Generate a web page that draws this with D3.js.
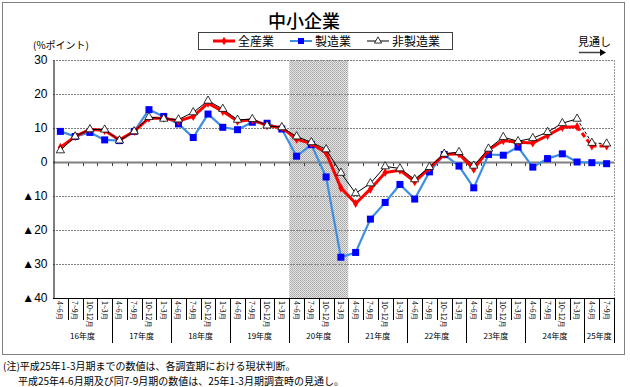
<!DOCTYPE html>
<html>
<head>
<meta charset="utf-8">
<script src="https://cdn.jsdelivr.net/npm/d3@7"></script>
<style>
body { margin: 0; background: #fff; }
svg { display: block; font-family: "Noto Sans CJK JP", sans-serif; }
</style>
</head>
<body>
<div id="chart"></div>
<script>
// 年度と四半期
var years = ["16年度","17年度","18年度","19年度","20年度","21年度","22年度","23年度","24年度","25年度"];
var yearQuarters = [4,4,4,4,4,4,4,4,4,2];
var quarters = ["4~6月","7~9月","10~12月","1~3月"];

// 系列の値（%ポイント）
var allInd = [4.3,7.5,9.6,9.3,6.5,9.0,12.9,12.9,12.1,13.4,17.3,14.9,12.0,12.4,10.7,10.1,
  6.7,5.4,2.7,-7.6,-12.2,-8.0,-3.1,-2.4,-5.8,-1.8,2.2,2.4,-2.1,3.6,6.3,5.8,5.6,7.8,10.2,10.4,4.7,4.7];
var manuf = [9.0,7.5,8.7,6.5,6.3,9.0,15.4,13.4,11.2,7.2,14.1,10.2,9.5,11.7,11.4,9.7,
  1.7,5.1,-4.4,-28.0,-26.6,-16.8,-11.9,-6.6,-10.9,-2.9,2.2,-1.2,-7.6,2.2,2.0,4.4,-1.5,1.0,2.4,0.0,-0.2,-0.5];
var nonManuf = [3.4,7.5,9.6,9.5,6.3,9.0,13.2,12.7,12.5,14.6,18.0,15.6,12.4,12.6,10.7,10.2,
  7.5,5.8,3.7,-3.2,-9.2,-6.3,-1.3,-1.9,-5.1,-1.5,2.4,2.9,-1.1,3.9,7.3,6.1,7.0,8.8,11.4,12.7,5.6,5.4];
var yTicks = [30,20,10,0,-10,-20,-30,-40];
var shadeFrom = 16, shadeTo = 19;   // 20年度
var forecastFrom = 35;              // 見通し

var W = 630, H = 387;
var x0 = 53, x1 = 614, yTop = 60, yBot = 298;

var svg = d3.select("#chart").append("svg").attr("width", W).attr("height", H);

var defs = svg.append("defs");
var pat = defs.append("pattern").attr("id", "dots")
  .attr("width", 2).attr("height", 2).attr("patternUnits", "userSpaceOnUse");
pat.append("rect").attr("width", 2).attr("height", 2).attr("fill", "#e4e4e4");
pat.append("rect").attr("width", 1).attr("height", 1).attr("fill", "#a8a8a8");
pat.append("rect").attr("x", 1).attr("y", 1).attr("width", 1).attr("height", 1).attr("fill", "#b4b4b4");

// 外枠
svg.append("rect").attr("x", 2.5).attr("y", 2.5).attr("width", 622).attr("height", 352)
  .attr("fill", "none").attr("stroke", "#808080");

var n = allInd.length;
var x = d3.scaleBand().domain(d3.range(n)).range([x0, x1]);
var y = d3.scaleLinear().domain([-40, 30]).range([yBot, yTop]);
var cx = function(i) { return x(i) + x.bandwidth() / 2; };

// 網掛け
svg.append("rect")
  .attr("x", x(shadeFrom)).attr("y", yTop)
  .attr("width", x(shadeTo) + x.bandwidth() - x(shadeFrom)).attr("height", yBot - yTop)
  .attr("fill", "url(#dots)");

// グリッド
svg.append("g").selectAll("line")
  .data(yTicks.filter(function(d) { return d != 0 && d != -40; }))
  .enter().append("line")
  .attr("x1", x0).attr("x2", x1)
  .attr("y1", function(d) { return Math.round(y(d)) + 0.5; })
  .attr("y2", function(d) { return Math.round(y(d)) + 0.5; })
  .attr("stroke", "#808080").attr("stroke-dasharray", "2,1");
svg.append("line").attr("x1", x1 + 0.5).attr("x2", x1 + 0.5).attr("y1", yTop).attr("y2", yBot)
  .attr("stroke", "#999").attr("stroke-dasharray", "2,1");

// ゼロ線
svg.append("line").attr("x1", x0).attr("x2", x1)
  .attr("y1", Math.round(y(0)) + 0.5).attr("y2", Math.round(y(0)) + 0.5)
  .attr("stroke", "#808080").attr("stroke-width", 2);
svg.append("g").selectAll("line").data(d3.range(1, n)).enter().append("line")
  .attr("x1", function(i) { return Math.round(x(i)) + 0.5; })
  .attr("x2", function(i) { return Math.round(x(i)) + 0.5; })
  .attr("y1", y(0) + 1).attr("y2", y(0) + 4)
  .attr("stroke", "#404040");

// y軸
var yAxis = d3.axisLeft(y).tickValues(yTicks).tickSize(0).tickPadding(6)
  .tickFormat(function(d) { return d < 0 ? "▲" + (-d) : d; });
var ga = svg.append("g").attr("transform", "translate(" + (x0 + 0.5) + ",0)").call(yAxis);
ga.select(".domain").attr("stroke", "#000");
ga.selectAll("text").attr("font-size", 12).attr("fill", "#000")
  .attr("font-family", "Liberation Sans, Arial, sans-serif");

// 下端
svg.append("line").attr("x1", x0).attr("x2", x1).attr("y1", yBot + 0.5).attr("y2", yBot + 0.5)
  .attr("stroke", "#000");

// カテゴリ目盛
var cats = [], starts = [], k = 0;
years.forEach(function(yr, yi) {
  starts.push(k);
  for (var q = 0; q < yearQuarters[yi]; q++) { cats.push(quarters[q]); k++; }
});
var gx = svg.append("g");
gx.selectAll("line.q").data(d3.range(1, n + 1)).enter().append("line")
  .attr("x1", function(i) { return Math.round(x(i) || x1) + 0.5; })
  .attr("x2", function(i) { return Math.round(x(i) || x1) + 0.5; })
  .attr("y1", yBot).attr("y2", function(i) {
    return (starts.indexOf(i) >= 0 || i == n) ? 343 : 320;
  })
  .attr("stroke", "#000");
gx.selectAll("text.q").data(cats).enter().append("text")
  .attr("transform", function(d, i) { return "translate(" + (cx(i) - 3) + "," + 301 + ") rotate(90)"; })
  .attr("font-size", 7).attr("text-anchor", "start")
  .text(function(d) { return d; });
gx.selectAll("text.y").data(years).enter().append("text")
  .attr("x", function(d, i) {
    var a = x(starts[i]), b = x(starts[i] + yearQuarters[i] - 1) + x.bandwidth();
    return (a + b) / 2;
  })
  .attr("y", 339).attr("font-size", 8).attr("text-anchor", "middle")
  .text(function(d) { return d; });

// 系列
function drawSeries(data, color, width, dash) {
  var line = d3.line().x(function(d, i) { return cx(i); }).y(function(d) { return y(d); });
  svg.append("path").datum(data.slice(0, forecastFrom + 1)).attr("d", line)
    .attr("fill", "none").attr("stroke", color).attr("stroke-width", width);
  var tail = d3.line().x(function(d) { return cx(d.i); }).y(function(d) { return y(d.v); });
  svg.append("path")
    .datum(data.map(function(v, i) { return {i: i, v: v}; }).slice(forecastFrom))
    .attr("d", tail).attr("fill", "none").attr("stroke", color).attr("stroke-width", width)
    .attr("stroke-dasharray", dash);
}

drawSeries(manuf, "#3f8fe0", 2.2, null);
svg.append("g").selectAll("rect").data(manuf).enter().append("rect")
  .attr("x", function(d, i) { return cx(i) - 3.5; })
  .attr("y", function(d) { return y(d) - 3.5; })
  .attr("width", 7).attr("height", 7).attr("fill", "#0000ff");

drawSeries(allInd, "#ff0000", 3, "5,3");
svg.append("g").selectAll("path").data(allInd).enter().append("path")
  .attr("d", d3.symbol().type(d3.symbolDiamond).size(24))
  .attr("transform", function(d, i) { return "translate(" + cx(i) + "," + y(d) + ")"; })
  .attr("fill", "#ff0000");

drawSeries(nonManuf, "#000", 1, "3,2");
svg.append("g").selectAll("path").data(nonManuf).enter().append("path")
  .attr("d", d3.symbol().type(d3.symbolTriangle).size(30))
  .attr("transform", function(d, i) { return "translate(" + cx(i) + "," + y(d) + ")"; })
  .attr("fill", "#fff").attr("stroke", "#000").attr("stroke-width", 0.8);

// タイトル
svg.append("text").attr("x", 304).attr("y", 28).attr("text-anchor", "middle")
  .attr("font-size", 18).attr("font-weight", 500).text("中小企業");

// 凡例
var lg = svg.append("g");
lg.append("rect").attr("x", 198.5).attr("y", 32.5).attr("width", 254).attr("height", 17)
  .attr("fill", "#fff").attr("stroke", "#404040");
var items = [
  {name: "全産業", color: "#ff0000", w: 3, x: 213, sym: "d"},
  {name: "製造業", color: "#3f8fe0", w: 2, x: 290, sym: "s"},
  {name: "非製造業", color: "#000", w: 1, x: 367, sym: "t"}
];
items.forEach(function(it) {
  lg.append("line").attr("x1", it.x).attr("x2", it.x + 22).attr("y1", 41).attr("y2", 41)
    .attr("stroke", it.color).attr("stroke-width", it.w);
  if (it.sym == "d") lg.append("path").attr("d", d3.symbol().type(d3.symbolDiamond).size(22))
    .attr("transform", "translate(" + (it.x + 11) + ",41)").attr("fill", "#ff0000");
  if (it.sym == "s") lg.append("rect").attr("x", it.x + 8).attr("y", 38).attr("width", 6).attr("height", 6)
    .attr("fill", "#0000ff");
  if (it.sym == "t") lg.append("path").attr("d", d3.symbol().type(d3.symbolTriangle).size(22))
    .attr("transform", "translate(" + (it.x + 11) + ",41)").attr("fill", "#fff").attr("stroke", "#000")
    .attr("stroke-width", 0.8);
  lg.append("text").attr("x", it.x + 25).attr("y", 45.5).attr("font-size", 12).text(it.name);
});

// 単位・見通し
svg.append("text").attr("x", 33).attr("y", 49).attr("font-size", 10).text("(%ポイント)");
svg.append("text").attr("x", 578).attr("y", 46).attr("font-size", 11).text("見通し");
svg.append("line").attr("x1", 579).attr("x2", 600).attr("y1", 52.5).attr("y2", 52.5)
  .attr("stroke", "#404040").attr("stroke-width", 1.5);
svg.append("path").attr("d", "M600,49 L606,52.5 L600,56 Z").attr("fill", "#000");

// 注記
svg.append("text").attr("x", 3).attr("y", 370).attr("font-size", 10)
  .text("(注)平成25年1-3月期までの数値は、各調査期における現状判断。");
svg.append("text").attr("x", 18).attr("y", 385).attr("font-size", 10)
  .text("平成25年4-6月期及び同7-9月期の数値は、25年1-3月期調査時の見通し。");
</script>
</body>
</html>
